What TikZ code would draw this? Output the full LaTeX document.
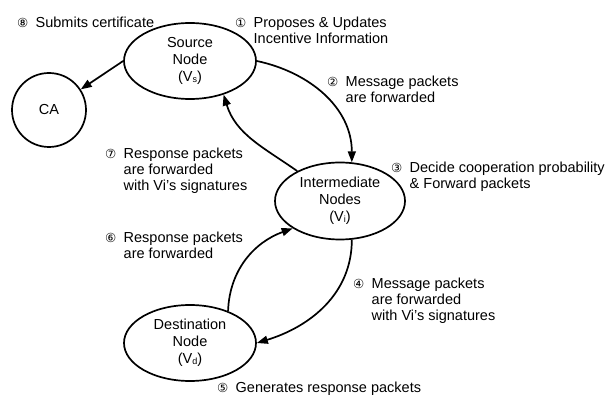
\documentclass[tikz,border=0pt]{standalone}
\usepackage{fontspec}
\setmainfont{Liberation Sans}
\newfontfamily\circfont{DejaVu Sans}
\usetikzlibrary{shapes.geometric,arrows.meta}
\newcommand\cnum[1]{\makebox[18.5pt][l]{\fontsize{12.5}{16}\circfont #1}}
\newcommand\steptext[2]{\begin{tabular}[t]{@{}l@{}l@{}}\cnum{#1}&#2\end{tabular}}
\newcommand\lowsub[1]{\raisebox{-0.5pt}{\fontsize{9}{9}\selectfont #1}}
\tikzset{
  lbl/.style={anchor=base west,inner sep=0pt,font=\fontsize{14.5}{16}\selectfont},
  ell/.style={ellipse,draw,line width=1.7pt,minimum width=132pt,minimum height=76pt,inner sep=0pt,align=center,font=\fontsize{14.5}{17}\selectfont},
  arr/.style={line width=1.7pt,-{Triangle[length=11pt,width=8pt]}}
}
\begin{document}
\begin{tikzpicture}[x=1pt,y=1pt]
\fill[white] (0,0) rectangle (610,-395);
\useasboundingbox (0,0) rectangle (610,-395);
% main nodes
\node[ell] (src) at (190,-61) {Source\\Node\\(V\lowsub{s})};
\node[ell,minimum width=130pt,minimum height=77pt] (inter) at (340,-201) {Intermediate\\Nodes\\(V\lowsub{i})};
\node[ell] (dst) at (190,-343) {Destination\\Node\\(V\lowsub{d})};
\node[circle,draw,line width=1.7pt,minimum size=74pt,inner sep=0pt,font=\fontsize{14.5}{17}\selectfont] (ca) at (49,-110) {CA};
% labels
\node[lbl] (t8) at (17,-28) {\steptext{⑧}{Submits certificate}};
\node[lbl] (t1) at (235,-28) {\steptext{①}{Proposes \& Updates\\&Incentive Information}};
\node[lbl] (t2) at (327,-87) {\steptext{②}{Message packets\\&are forwarded}};
\node[lbl] (t3) at (391,-173) {\steptext{③}{Decide cooperation probability\\&\& Forward packets}};
\node[lbl] (t7) at (105,-159) {\steptext{⑦}{Response packets\\&are forwarded\\&with Vi’s signatures}};
\node[lbl] (t6) at (105,-243) {\steptext{⑥}{Response packets\\&are forwarded}};
\node[lbl] (t4) at (353,-288) {\steptext{④}{Message packets\\&are forwarded\\&with Vi’s signatures}};
\node[lbl] (t5) at (217,-392) {\steptext{⑤}{Generates response packets}};
% connectors
\draw[arr] (src.west) -- (ca.33);
\draw[arr] (src.east) to[out=-12,in=90] (inter.73);
\draw[arr] (inter.145) to[out=145,in=-73] (src.-45);
\draw[arr] (inter.-73) to[out=-90,in=17] (dst.east);
\draw[arr] (dst.40) to[out=88,in=-160] (inter.210);
\end{tikzpicture}
\end{document}
